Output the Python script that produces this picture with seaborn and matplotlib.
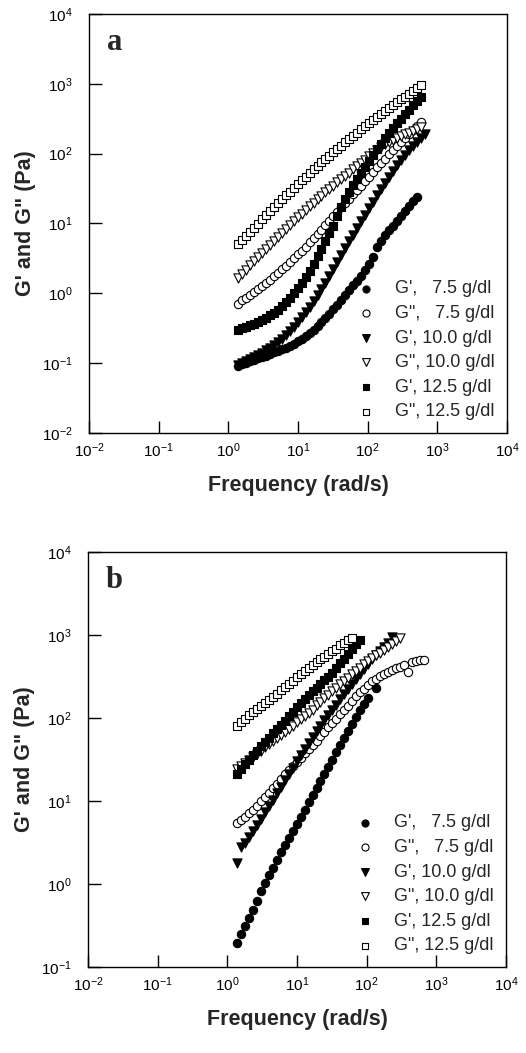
"""
Frequency sweeps of G' and G'' at three concentrations, two panels (a, b).

Writes out.png (526 x 1053 px).

    python3 plot.py
"""

import matplotlib

matplotlib.use("Agg")  # headless
import matplotlib.pyplot as plt
import pandas as pd
import seaborn as sns
from matplotlib.ticker import LogLocator, NullLocator

# Sweep frequencies (rad/s), shared by every series; each series uses the
# first len(values) of them.
FREQ = [1.380, 1.574, 1.795, 2.046, 2.333, 2.661, 3.034, 3.459, 3.945, 4.498,
        5.129, 5.848, 6.668, 7.603, 8.670, 9.886, 11.27, 12.85, 14.66, 16.71,
        19.05, 21.73, 24.77, 28.25, 32.21, 36.73, 41.88, 47.75, 54.45, 62.09,
        70.79, 80.72, 92.05, 105.0, 119.7, 136.5, 155.6, 177.4, 202.3, 230.7,
        263.0, 299.9, 342.0, 389.9, 444.6, 507.0, 578.1, 659.2]

LABELS = ["G',   7.5 g/dl", 'G",   7.5 g/dl', "G', 10.0 g/dl",
          'G", 10.0 g/dl', "G', 12.5 g/dl", 'G", 12.5 g/dl']
MARKERS = ["o", "o", "v", "v", "s", "s"]
FILLED = [True, False, True, False, True, False]
SIZES = [36, 36, 44, 44, 30, 30]

# ---- panel a (Pa) ----
A_GP_75 = [0.0918, 0.0964, 0.1012, 0.1059, 0.1112, 0.1167, 0.1225, 0.1285, 0.1352, 0.1426,
           0.150, 0.158, 0.167, 0.178, 0.191, 0.205, 0.223, 0.244, 0.271, 0.303,
           0.340, 0.386, 0.442, 0.509, 0.592, 0.690, 0.807, 0.944, 1.107, 1.297,
           1.521, 1.799, 2.163, 2.661, 3.273, 4.571, 5.623, 6.761, 7.943, 9.333,
           10.96, 12.88, 15.14, 17.78, 20.89, 23.99]
A_GPP_75 = [0.708, 0.794, 0.871, 0.955, 1.047, 1.148, 1.259, 1.396, 1.567, 1.758,
            1.972, 2.213, 2.495, 2.818, 3.184, 3.614, 4.102, 4.677, 5.346, 6.138,
            7.079, 8.185, 9.484, 10.96, 12.71, 14.72, 16.98, 19.59, 22.59, 26.06,
            30.13, 34.91, 40.55, 47.10, 54.70, 63.53, 73.45, 84.72, 97.72, 112.2,
            128.8, 147.9, 169.0, 193.2, 220.8, 251.2, 285.1]
A_GP_100 = [0.0933, 0.0993, 0.106, 0.113, 0.121, 0.130, 0.141, 0.152, 0.166, 0.182,
            0.201, 0.224, 0.252, 0.288, 0.334, 0.391, 0.460, 0.545, 0.646, 0.773,
            0.933, 1.148, 1.429, 1.791, 2.249, 2.825, 3.548, 4.436, 5.546, 6.918,
            8.610, 10.69, 13.24, 16.41, 20.32, 25.18, 31.19, 38.46, 47.10, 57.28,
            68.87, 81.85, 96.38, 112.2, 129.4, 147.9, 167.9, 189.7]
A_GPP_100 = [1.660, 1.905, 2.188, 2.512, 2.884, 3.304, 3.785, 4.334, 4.954, 5.662,
             6.457, 7.361, 8.374, 9.507, 10.79, 12.22, 13.80, 15.60, 17.58, 19.77,
             22.18, 24.83, 27.80, 31.05, 34.67, 38.74, 43.15, 48.08, 53.58, 59.70,
             66.36, 73.77, 82.02, 91.19, 101.2, 112.0, 123.6, 136.1, 146.2, 157.0,
             168.7, 179.1, 189.7, 200.9, 212.8, 225.4, 238.8]
A_GP_125 = [0.302, 0.316, 0.332, 0.349, 0.368, 0.389, 0.414, 0.445, 0.482, 0.528,
            0.586, 0.658, 0.746, 0.857, 0.998, 1.175, 1.406, 1.710, 2.113, 2.661,
            3.388, 4.345, 5.598, 7.211, 9.268, 12.74, 17.02, 22.08, 28.38, 35.32,
            43.65, 53.46, 65.16, 79.25, 96.16, 116.1, 139.6, 166.7, 197.7, 232.8,
            272.3, 317.0, 367.3, 424.6, 489.8, 563.6, 648.6]
A_GPP_125 = [5.012, 5.754, 6.607, 7.586, 8.710, 9.977, 11.43, 13.09, 14.96, 17.10,
             19.50, 22.23, 25.29, 28.71, 32.58, 36.90, 41.69, 47.10, 53.09, 59.70,
             66.99, 74.99, 83.95, 93.76, 104.7, 117.0, 130.3, 145.2, 161.8, 180.3,
             200.4, 222.8, 247.7, 275.4, 305.5, 338.1, 373.3, 411.1, 451.9, 496.6,
             545.8, 599.8, 657.7, 721.1, 790.7, 867.0, 950.6]

# ---- panel b (Pa) ----
NAN = float("nan")  # gap before the last detached point
B_GP_75 = [0.193, 0.251, 0.313, 0.394, 0.490, 0.631, 0.813, 1.023, 1.274, 1.578,
           1.950, 2.399, 2.938, 3.589, 4.375, 5.333, 6.486, 7.889, 9.594, 11.67,
           14.19, 17.26, 21.04, 25.70, 31.41, 38.46, 47.10, 57.54, 70.15, 85.11,
           102.8, 123.6, 147.9, 176.2, NAN, 229.1]
B_GPP_75 = [5.370, 5.888, 6.457, 7.079, 7.816, 8.770, 9.886, 11.14, 12.59, 14.29,
            16.22, 18.41, 20.89, 23.55, 26.42, 29.65, 33.27, 37.33, 41.88, 47.10,
            53.09, 59.98, 67.92, 76.91, 87.10, 98.40, 110.9, 124.7, 139.6, 162.2,
            182.0, 204.2, 226.5, 251.2, 275.4, 298.5, 319.9, 338.8, 358.9, 377.6,
            398.1, 416.9, 436.5, 354.8, 467.7, 484.2, 495.5, 501.2]
B_GP_100 = [1.778, 2.754, 3.126, 3.690, 4.365, 5.152, 6.109, 7.278, 8.670, 10.35,
            12.36, 14.79, 17.70, 21.13, 25.23, 30.06, 35.73, 42.36, 50.12, 59.02,
            69.18, 80.72, 93.76, 108.6, 125.6, 144.9, 167.1, 192.8, 222.3, 256.4,
            295.8, 340.4, 390.8, 446.7, 507.0, 571.5, 639.7, 714.5, 809.1, 944.1]
B_GPP_100 = [23.99, 26.18, 28.58, 31.19, 34.04, 37.15, 40.46, 44.16, 48.19, 52.48,
             57.28, 62.52, 68.08, 74.30, 81.10, 88.51, 96.61, 105.7, 115.6, 126.5,
             142.2, 157.0, 173.0, 190.5, 209.9, 231.2, 254.1, 279.3, 306.9, 337.3,
             369.8, 404.6, 441.6, 480.8, 522.4, 566.2, 613.8, 665.3, 721.1, 781.6,
             847.2, 916.2]
B_GP_125 = [21.38, 24.32, 27.61, 31.33, 35.56, 40.27, 45.50, 51.40, 57.94, 65.16,
            73.11, 81.85, 92.30, 104.7, 118.9, 134.3, 150.7, 168.7, 187.9, 208.9,
            231.7, 257.0, 285.8, 309.7, 349.9, 398.1, 455.0, 520.0, 594.3, 679.2,
            772.7, 874.0]
B_GPP_125 = [80.35, 89.13, 97.72, 107.2, 117.0, 127.4, 138.7, 151.4, 165.2, 180.3,
             197.2, 215.8, 236.0, 258.2, 281.8, 307.6, 335.0, 364.8, 397.2, 431.5,
             467.7, 507.0, 548.3, 591.6, 636.8, 683.9, 749.9, 803.5, 861.0, 922.6]

sns.set_theme(style="white")
plt.rcParams["font.family"] = ["Liberation Sans", "DejaVu Sans"]
plt.rcParams["axes.edgecolor"] = "black"
plt.rcParams["axes.unicode_minus"] = False


def _long_frame(series: list[list[float]]) -> pd.DataFrame:
    parts = []
    for label, vals in zip(LABELS, series):
        parts.append(pd.DataFrame({"freq": FREQ[: len(vals)], "G": vals, "series": label}))
    return pd.concat(parts, ignore_index=True)


def draw_panel(ax, series, ylim, tag) -> None:
    df = _long_frame(series)
    for i, label in enumerate(LABELS):
        sub = df[df["series"] == label]
        sns.scatterplot(
            data=sub, x="freq", y="G", ax=ax, label=label,
            marker=MARKERS[i], s=SIZES[i],
            color="black" if FILLED[i] else "white",
            edgecolor="black", linewidth=0.8, zorder=3 + i,
        )
    ax.set_xscale("log")
    ax.set_yscale("log")
    ax.set_xlim(1e-2, 1e4)
    ax.set_ylim(*ylim)
    for axis in (ax.xaxis, ax.yaxis):
        axis.set_major_locator(LogLocator(base=10, numticks=12))
        axis.set_minor_locator(NullLocator())
    ax.tick_params(axis="both", which="major", direction="in", length=9, width=1,
                   labelsize=11, colors="black", bottom=True, left=True,
                   top=False, right=False)
    ax.tick_params(axis="x", pad=6)
    ax.tick_params(axis="y", pad=12)
    for sp in ax.spines.values():
        sp.set_linewidth(1.0)
        sp.set_color("black")
    ax.set_xlabel("Frequency (rad/s)", fontsize=15.5, fontweight="bold", labelpad=11)
    ax.set_ylabel('G\' and G" (Pa)', fontsize=15.5, fontweight="bold", labelpad=4)
    ax.text(0.043, 0.914, tag, transform=ax.transAxes, fontsize=22,
            fontweight="bold", family=["Liberation Serif", "DejaVu Serif"])
    ax.legend(loc="lower right", frameon=False, fontsize=13, handlelength=1.0,
              handletextpad=1.1, labelspacing=0.42, borderaxespad=0.3,
              markerscale=0.85)


def run() -> None:
    fig = plt.figure(figsize=(5.26, 10.53), dpi=100)
    ax_a = fig.add_axes([0.1692, 0.5888, 0.7947, 0.3979])
    ax_b = fig.add_axes([0.1673, 0.0817, 0.7947, 0.3941])
    draw_panel(ax_a, [A_GP_75, A_GPP_75, A_GP_100, A_GPP_100, A_GP_125, A_GPP_125],
               (1e-2, 1e4), "a")
    draw_panel(ax_b, [B_GP_75, B_GPP_75, B_GP_100, B_GPP_100, B_GP_125, B_GPP_125],
               (1e-1, 1e4), "b")
    fig.savefig("out.png", dpi=100)
    plt.close(fig)


if __name__ == "__main__":
    run()
